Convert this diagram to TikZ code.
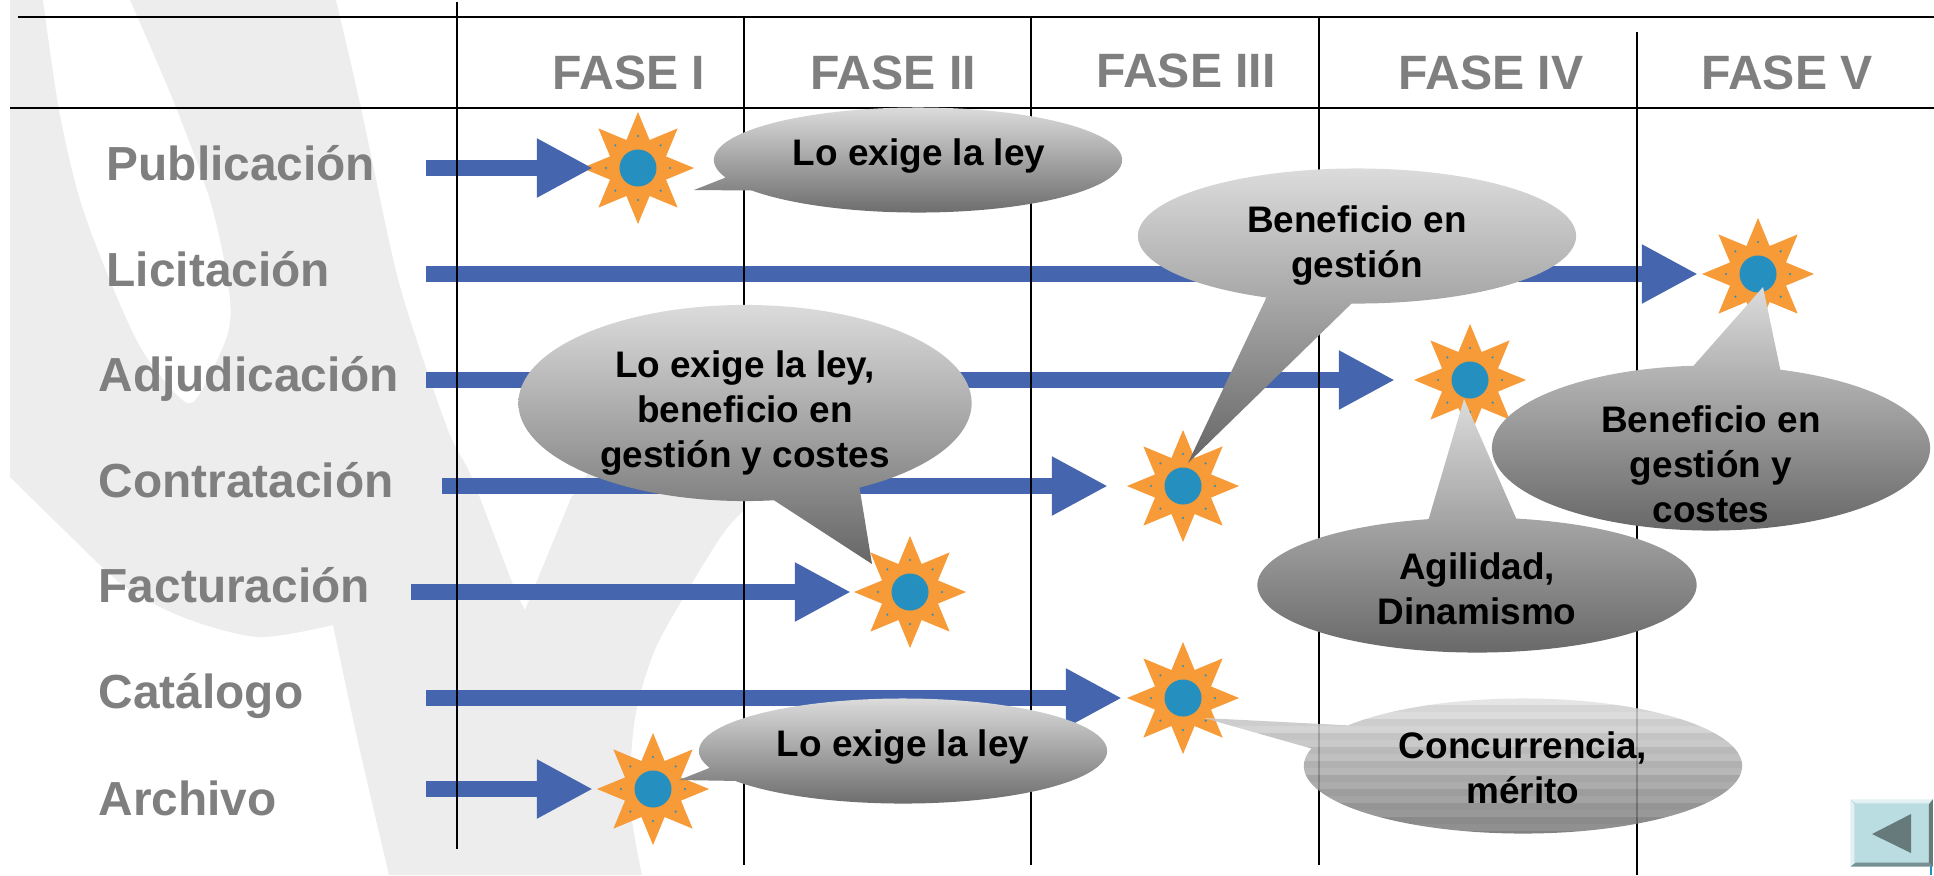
\documentclass[tikz,border=0pt]{standalone}
\usepackage{fontspec}
\setmainfont{Liberation Sans}
\usetikzlibrary{arrows.meta,shapes.geometric,shapes.callouts}
\definecolor{marca}{HTML}{EDEDED}
\definecolor{flecha}{HTML}{4565AE}
\definecolor{naranja}{HTML}{F79A38}
\definecolor{azul}{HTML}{2590C0}
\definecolor{rotulo}{HTML}{7F7F7F}
\definecolor{boton}{HTML}{B9DDE0}

\begin{document}
\begin{tikzpicture}[x=0.01cm,y=-0.01cm,
    flow/.style={draw=flecha,line width=.16cm,-{Triangle[length=.56cm,width=.55cm]}},
    rejilla/.style={draw=black,line width=.023cm},
    bubble/.style={ellipse callout,inner sep=0pt},
    grisada/.style={bubble,top color=black!14,bottom color=black!60},
    rayada/.style={bubble,path picture={
                     \foreach \i in {0,...,19} {
                       \pgfmathtruncatemacro{\tono}{12+\i*2.2+mod(\i,2)*5}
                       \fill[black!\tono,fill opacity=.85] (path picture bounding box.north west)
                         ++(0,\i*7) rectangle ++(600,7);}}},
    globotxt/.style={align=center,inner sep=0pt,text=black,
                     font=\fontsize{10.5}{12.8}\selectfont\bfseries},
    burst/.style={star,star points=8,star point ratio=1.85,minimum size=1.12cm,inner sep=0pt,
                  fill=naranja,path picture={
                    \fill[azul] (path picture bounding box.center) circle (.185cm);
                    \foreach \ang in {0,45,...,315}
                      \fill[azul] (path picture bounding box.center) ++(\ang:.32cm) circle (.012cm);}}]
\useasboundingbox (0,0) rectangle (1934,875);

\fill[marca] (10,0) -- (43,0)
    -- plot[smooth] coordinates {(43,0) (59,110) (80,200) (111,283) (142,350) (179,397) (197,398) (228,333) (228,283) (210,200) (173,100) (130,0)}
    -- (336,0)
    -- plot[smooth] coordinates {(336,0) (361,108) (395,267) (420,350) (450,435) (472,478) (512,582) (525,610)}
    -- (571,498) -- (590,470) -- (735,470)
    -- plot[smooth] coordinates {(744,510) (722,535) (685,595) (654,652) (635,718) (630,802) (642,875)}
    -- (389,875)
    -- plot[smooth] coordinates {(389,875) (358,742) (333,625)}
    -- plot[smooth] coordinates {(333,625) (259,637) (185,618) (123,585) (62,528) (10,477)}
    -- cycle;

\begin{scope}[every node/.style={rotulo,font=\fontsize{13.7}{16}\selectfont\bfseries}]
    \node (F1) at (629,73) {FASE I};
    \node (F2) at (893,73) {FASE II};
    \node (F3) at (1186,71) {FASE III};
    \node (F4) at (1491,73) {FASE IV};
    \node (F5) at (1787,73) {FASE V};
\end{scope}

\begin{scope}[every node/.style={rotulo,anchor=base west,inner sep=0pt,font=\fontsize{13.6}{16}\selectfont\bfseries}]
    \node (Pub) at (106,180) {Publicación};
    \node (Lic) at (106,286) {Licitación};
    \node (Adj) at (98,391) {Adjudicación};
    \node (Con) at (98,497) {Contratación};
    \node (Fac) at (98,602) {Facturación};
    \node (Cat) at (98,708) {Catálogo};
    \node (Arc) at (98,815) {Archivo};
\end{scope}

\node (SPub)[burst] at (638,168) {};
\node (SLic)[burst] at (1758,274) {};
\node (SAdj)[burst] at (1470,380) {};
\node (SCon)[burst] at (1183,486) {};
\node (SFac)[burst] at (910,592) {};
\node (SCat)[burst] at (1183,698) {};
\node (SArc)[burst] at (653,789) {};

\coordinate (TPub) at (426,168);
\coordinate (TLic) at (426,274);
\coordinate (TAdj) at (426,380);
\coordinate (TCon) at (442,486);
\coordinate (TFac) at (411,592);
\coordinate (TCat) at (426,698);
\coordinate (TArc) at (426,789);

\draw[flow,shorten >=.45cm] (TPub) -- (SPub.center);
\draw[flow,shorten >=.60cm] (TLic) -- (SLic.center);
\draw[flow,shorten >=.75cm] (TAdj) -- (SAdj.center);
\draw[flow,shorten >=.75cm] (TCon) -- (SCon.center);
\draw[flow,shorten >=.59cm] (TFac) -- (SFac.center);
\draw[flow,shorten >=.61cm] (TCat) -- (SCat.center);
\draw[flow,shorten >=.60cm] (TArc) -- (SArc.center);

\coordinate (H1a) at (18,17);
\coordinate (H1b) at (1934,17);
\coordinate (H2a) at (10,108);
\coordinate (H2b) at (1934,108);
\coordinate (V0a) at (457,2);
\coordinate (V0b) at (457,849);
\coordinate (V1a) at (744,17);
\coordinate (V1b) at (744,865);
\coordinate (V2a) at (1031,17);
\coordinate (V2b) at (1031,865);
\coordinate (V3a) at (1319,17);
\coordinate (V3b) at (1319,865);
\coordinate (V4a) at (1637,32);
\coordinate (V4b) at (1637,875);
\draw[rejilla] (H1a) -- (H1b);
\draw[rejilla] (H2a) -- (H2b);
\draw[rejilla] (V0a) -- (V0b);
\draw[rejilla] (V1a) -- (V1b);
\draw[rejilla] (V2a) -- (V2b);
\draw[rejilla] (V3a) -- (V3b);
\draw[rejilla] (V4a) -- (V4b);

\node (B1)[grisada,minimum width=4.08cm,minimum height=1.05cm,callout pointer arc=16,
           callout absolute pointer={(694,190)}] at (918,160) {};
\node (B2)[grisada,minimum width=4.38cm,minimum height=1.35cm,callout pointer arc=23,
           callout absolute pointer={(1188,463)}] at (1357,236) {};
\node (B3)[grisada,minimum width=4.53cm,minimum height=1.96cm,callout pointer arc=23,
           callout absolute pointer={(872,564)}] at (745,403) {};
\node (B4)[grisada,minimum width=4.38cm,minimum height=1.65cm,callout pointer arc=23,
           callout absolute pointer={(1763,287)}] at (1711,448) {};
\node (B5)[grisada,minimum width=4.39cm,minimum height=1.35cm,callout pointer arc=23,
           callout absolute pointer={(1464,399)}] at (1477,585) {};
\node (B6)[grisada,minimum width=4.08cm,minimum height=1.05cm,callout pointer arc=16,
           callout absolute pointer={(679,780)}] at (903,751) {};
\node (B7)[rayada,minimum width=4.38cm,minimum height=1.35cm,callout pointer arc=22,
           callout absolute pointer={(1204,718)}] at (1523,766) {};

\begin{scope}[every node/.style={globotxt}]
    \node (L1) at (919,156) {Lo exige la ley};
    \node (L2) at (1357,246) {Beneficio en\\gestión};
    \node (L3) at (745,413) {Lo exige la ley,\\beneficio en\\gestión y costes};
    \node (L4) at (1711,464) {Beneficio en\\gestión y\\costes};
    \node (L5) at (1477,589) {Agilidad,\\Dinamismo};
    \node (L6) at (903,747) {Lo exige la ley};
    \node (L7) at (1523,768) {Concurrencia,\\mérito};
\end{scope}

\node (Vol)[fill=boton,minimum width=.81cm,minimum height=.66cm,inner sep=0pt] at (1891.5,833) {};
\fill[white!60!boton] (Vol.north west) -- (Vol.north east) -- ++(-4,4) -- ++(-73,0) -- cycle;
\fill[white!60!boton] (Vol.north west) -- (Vol.south west) -- ++(4,-4) -- ++(0,-58) -- cycle;
\fill[black!35!boton] (Vol.south west) -- (Vol.south east) -- ++(-4,-4) -- ++(-73,0) -- cycle;
\fill[black!45!boton] (Vol.north east) -- (Vol.south east) -- ++(-4,-4) -- ++(0,-58) -- cycle;
\fill[black!45!boton] (1872,834) -- (1911,814) -- (1911,853) -- cycle;
\fill[azul] (1930,866) rectangle (1932,875);
\end{tikzpicture}
\end{document}
